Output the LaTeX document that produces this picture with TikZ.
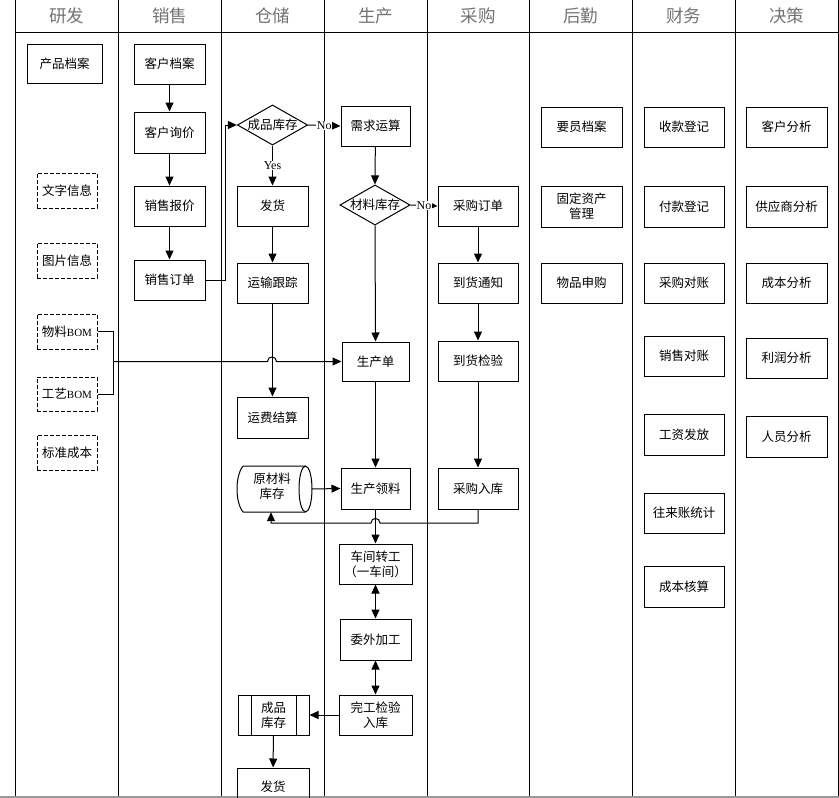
\documentclass[tikz,border=0pt]{standalone}
\usepackage{fontspec}
\setmainfont{Noto Sans CJK SC}
\newfontfamily\lat{Liberation Serif}
\usetikzlibrary{shapes.geometric,arrows.meta,calc}
\begin{document}
\begin{tikzpicture}[x=1pt,y=-1pt,
  every node/.style={font=\fontsize{12.5}{15}\selectfont, inner sep=0pt, align=center},
  pbox/.style={draw, line width=1pt, minimum width=#1, minimum height=40pt},
  pbox/.default=71pt,
  dbox/.style={draw, line width=1pt, dashed, dash pattern=on 4pt off 2pt, minimum width=60pt, minimum height=35pt},
  dia/.style={draw, line width=1pt, shape=diamond, aspect=1.75, inner sep=0pt},
  lane/.style={line width=1pt},
  head/.style={font=\fontsize{17.5}{18}\selectfont, text=black!55},
  conn/.style={line width=1pt},
  arr/.style={line width=1pt, -{Triangle[length=9pt,width=8pt]}},
  darr/.style={line width=1pt, {Triangle[length=9pt,width=8pt]}-{Triangle[length=9pt,width=8pt]}},
  lab/.style={fill=white, inner sep=0.8pt, font=\lat\fontsize{12}{13}\selectfont}
]
\useasboundingbox (0,0) rectangle (839,798);

% lanes
\foreach \x in {15,118,221,324,427,529,632,735,838}
  \draw[lane] (\x,0) -- (\x,798);
\draw[lane] (15,32) -- (838,32);
\draw[line width=2pt, black!40] (0,797) -- (839,797);

% headers
\node[head] (h1) at (66.5,16) {研发};
\node[head] (h2) at (169.5,16) {销售};
\node[head] (h3) at (272.5,16) {仓储};
\node[head] (h4) at (375.5,16) {生产};
\node[head] (h5) at (478,16) {采购};
\node[head] (h6) at (580.5,16) {后勤};
\node[head] (h7) at (683.5,16) {财务};
\node[head] (h8) at (786.5,16) {决策};

% 研发
\node[pbox=75pt, minimum height=39pt] (pd) at (64.5,63.5) {产品档案};
\node[dbox] (wz) at (67,190.5) {文字信息};
\node[dbox] (tp) at (67,260.5) {图片信息};
\node[dbox] (wl) at (67,331.5) {物料{\lat\fontsize{11}{12}\selectfont BOM}};
\node[dbox, minimum height=34pt] (gy) at (67,394) {工艺{\lat\fontsize{11}{12}\selectfont BOM}};
\node[dbox] (bz) at (67,452.5) {标准成本};

% 销售
\node[pbox] (kh) at (169.5,64) {客户档案};
\node[pbox, minimum height=41pt] (xj) at (169.5,132.5) {客户询价};
\node[pbox] (bj) at (169.5,206) {销售报价};
\node[pbox] (dd) at (169.5,280) {销售订单};

% 仓储
\node[dia] (d1) at (272.5,125) {成品库存};
\node[pbox] (fh) at (272.5,206) {发货};
\node[pbox] (ys) at (272.5,283) {运输跟踪};
\node[pbox, minimum height=41pt] (yf) at (272.5,417.5) {运费结算};
\node[minimum width=75pt, minimum height=46pt] (cyl) at (274.5,489) {};
\draw[line width=1pt] (243,466) -- (305,466)
  (243,512) -- (305,512)
  (243,466) .. controls (235,476) and (235,502) .. (243,512);
\draw[line width=1pt] (305.5,489) ellipse [x radius=6.5, y radius=23];
\node at (272,486) {原材料\\库存};
\node[pbox] (cp) at (273.5,715) {成品\\库存};
\draw[line width=1pt] ([xshift=14pt]cp.north west) -- ([xshift=14pt]cp.south west)
  ([xshift=-13pt]cp.north east) -- ([xshift=-13pt]cp.south east);
\node[pbox=72pt, minimum height=38pt] (fh2) at (273,787) {发货};

% 生产
\node[pbox=69pt] (xq) at (375.5,126) {需求运算};
\node[dia] (d2) at (375,205) {材料库存};
\node[pbox=67pt, minimum height=39pt] (scd) at (375.5,361.5) {生产单};
\node[pbox=69pt, minimum height=41pt] (sl) at (375.5,488.5) {生产领料};
\node[pbox=73pt] (cj) at (375.5,564) {车间转工\\（一车间）};
\node[pbox, minimum height=41pt] (ww) at (375.5,639.5) {委外加工};
\node[pbox=73pt] (wg) at (375.5,715) {完工检验\\入库};

% 采购
\node[pbox=80pt] (cg) at (478,206) {采购订单};
\node[pbox=80pt] (dh) at (478,283) {到货通知};
\node[pbox=80pt] (jy) at (478,361) {到货检验};
\node[pbox=80pt, minimum height=41pt] (rk) at (478,488.5) {采购入库};

% 后勤
\node[pbox=81pt] (ry) at (581.5,127) {要员档案};
\node[pbox=81pt, minimum height=41pt] (gd) at (581.5,206.5) {固定资产\\管理};
\node[pbox=81pt] (wp) at (581.5,283) {物品申购};

% 财务
\node[pbox=80pt] (sk) at (684,127) {收款登记};
\node[pbox=80pt, minimum height=41pt] (fk) at (684,206.5) {付款登记};
\node[pbox=80pt] (cd) at (684,283) {采购对账};
\node[pbox=80pt] (xd) at (684,356) {销售对账};
\node[pbox=80pt, minimum height=41pt] (gz) at (684,434.5) {工资发放};
\node[pbox=80pt] (wl2) at (684,513) {往来账统计};
\node[pbox=80pt, minimum height=41pt] (cb) at (684,586.5) {成本核算};

% 决策
\node[pbox=81pt] (kf) at (786.5,127) {客户分析};
\node[pbox=81pt, minimum height=41pt] (gf) at (786.5,206.5) {供应商分析};
\node[pbox=81pt] (cf) at (786.5,283) {成本分析};
\node[pbox=81pt] (lr) at (786.5,358) {利润分析};
\node[pbox=81pt, minimum height=41pt] (rf) at (786.5,436.5) {人员分析};

% connectors
\draw[arr] (kh) -- (xj);
\draw[arr] (xj) -- (bj);
\draw[arr] (bj) -- (dd);
\coordinate (c1) at (225,280);
\draw[arr] (dd.east) -- (c1) |- (d1.west);
\draw[arr] (d1.east) -- node[lab] {No} (xq.west);
\draw[arr] (d1.south) -- node[lab] {Yes} (fh.north);
\draw[arr] (fh) -- (ys);
\draw[arr] (ys) -- (yf);
\draw[arr] (xq) -- (d2.north);
\draw[arr] (d2.east) -- node[lab] {No} (cg.west);
\draw[arr] (d2.south) -- (scd.north);
\draw[arr] (cg) -- (dh);
\draw[arr] (dh) -- (jy);
\draw[arr] (jy) -- (rk);
\draw[arr] (scd) -- (sl);
\draw[arr] (sl) -- (cj);
\draw[arr] (cyl.east) -- (sl.west);
\coordinate (r1) at (478,523);
\draw[arr] (rk.south) -- (r1) -- (380,523) .. controls (380,517) and (371,517) .. (371,523)
  -- (271,523) -- ($(cyl.south)+(-3.5,0)$);
\draw[darr] (cj) -- (ww);
\draw[darr] (ww) -- (wg);
\draw[arr] (wg.west) -- (cp.east);
\draw[arr] (cp) -- (fh2);
\coordinate (b1) at (113,331.5);
\coordinate (b2) at (113,394);
\coordinate (b3) at (113,361.5);
\draw[conn] (wl.east) -- (b1) -- (b2) -- (gy.east);
\draw[arr] (b3) -- (267.5,361.5) .. controls (267.5,355.5) and (276.5,355.5) .. (276.5,361.5) -- (scd.west);
\end{tikzpicture}
\end{document}
